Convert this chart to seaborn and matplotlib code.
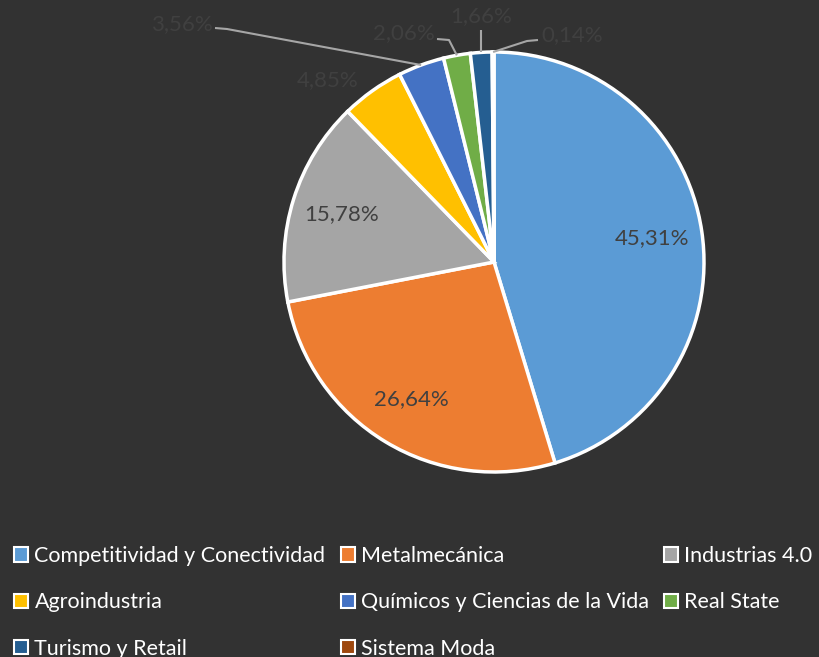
import numpy as np
import matplotlib
matplotlib.use("Agg")
import matplotlib.pyplot as plt
from matplotlib.patches import Patch
import seaborn as sns

# data
sectores = ["Competitividad y Conectividad", "Metalmecánica", "Industrias 4.0",
            "Agroindustria", "Químicos y Ciencias de la Vida", "Real State",
            "Turismo y Retail", "Sistema Moda"]
porcentajes = [45.31, 26.64, 15.78, 4.85, 3.56, 2.06, 1.66, 0.14]
colores = ["#5B9BD5", "#ED7D31", "#A5A5A5", "#FFC000",
           "#4472C4", "#70AD47", "#255E91", "#9E480E"]

bg = "#323232"
sns.set_theme(style="white", rc={"figure.facecolor": bg, "axes.facecolor": bg,
                                 "savefig.facecolor": bg})
plt.rcParams["font.family"] = ["Lato", "DejaVu Sans"]
pal = sns.color_palette(colores)

fig = plt.figure(figsize=(8.2, 6.57), dpi=100)
W, H = 820, 657
cx, cy, r = 494, 262, 210
ax = fig.add_axes([(cx - r) / W, (H - cy - r) / H, 2 * r / W, 2 * r / H])

def fmt(p):
    return f"{p:.2f}".replace(".", ",") + "%" if p > 10 else ""

wedges, _, autotexts = ax.pie(porcentajes, colors=pal, startangle=90, counterclock=False,
                              autopct=fmt, pctdistance=0.76, radius=1,
                              wedgeprops=dict(edgecolor="white", linewidth=2.5),
                              textprops=dict(color="#404040", fontsize=16))
ax.set_xlim(-1, 1)
ax.set_ylim(-1, 1)
ax.axis("off")

# etiquetas exteriores (pixel positions -> data)
def d(px, py):
    return (px - cx) / r, (cy - py) / r

def edge(w):
    a = np.deg2rad((w.theta1 + w.theta2) / 2)
    return np.cos(a), np.sin(a)

lab = lambda v: f"{v:.2f}".replace(".", ",") + "%"
txtc = "#404040"
linec = "#A6A6A6"

# 4,85 % sin línea guía
ax.text(*d(328, 80), lab(porcentajes[3]), color=txtc, fontsize=16, ha="center", va="center")

# (índice, posición del texto, ha, puntos de la guía)
guias = [
    (4, (213, 24), "right", [(215, 28), (227, 29)]),
    (5, (435, 33), "right", [(437, 39), (449, 40)]),
    (6, (481, 16), "center", [(481, 30)]),
    (7, (541, 35), "left", [(538, 40), (527, 41)]),
]
for i, pos, ha, pts in guias:
    ax.text(*d(*pos), lab(porcentajes[i]), color=txtc, fontsize=16, ha=ha, va="center")
    xs = [d(*p)[0] for p in pts]
    ys = [d(*p)[1] for p in pts]
    ex, ey = edge(wedges[i])
    if ha == "center":
        xs.append(xs[0])
    else:
        xs.append(ex)
    ys.append(ey)
    ax.plot(xs, ys, color=linec, lw=1.5, clip_on=False, solid_capstyle="butt")

# leyenda: filas de 3, matplotlib rellena por columnas
orden = [0, 3, 6, 1, 4, 7, 2, 5]
handles = [Patch(facecolor=pal[i], edgecolor="white", linewidth=1.5) for i in orden]
labels = [sectores[i] for i in orden]
leg = fig.legend(handles, labels, ncol=3, loc="upper left", bbox_to_anchor=(14 / W, 1 - 546 / H),
                 frameon=False, fontsize=15.5, labelcolor="white",
                 handlelength=0.65, handleheight=0.65, handletextpad=0.3,
                 columnspacing=0.7, labelspacing=1.22, borderpad=0, borderaxespad=0)

fig.savefig("out.png", dpi=100, facecolor=bg)
